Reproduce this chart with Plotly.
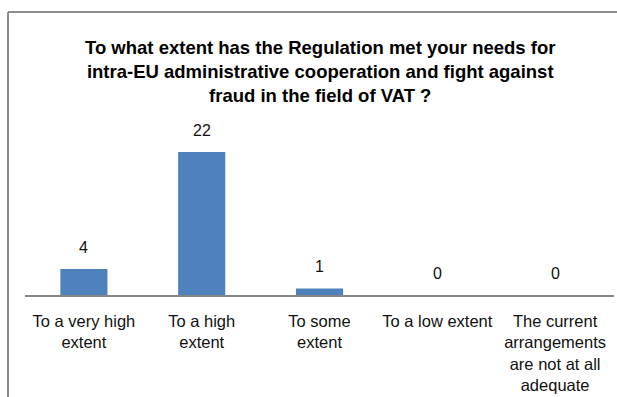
import plotly.graph_objects as go

categories = ["To a very high extent", "To a high extent", "To some extent",
              "To a low extent", "The current arrangements are not at all adequate"]
tick_labels = ["To a very high<br>extent", "To a high<br>extent", "To some<br>extent",
               "To a low extent", "The current<br>arrangements<br>are not at all<br>adequate"]
values = [4, 22, 1, 0, 0]
title_text = ("To what extent has the Regulation met your needs for<br>"
              "intra-EU administrative cooperation and fight against<br>"
              "fraud in the field of VAT ?")

W, H = 617, 397
L, R, T, B = 25, 3, 139, 102
plot_h = H - T - B
plot_w = W - L - R

fig = go.Figure()
fig.add_trace(go.Bar(
    x=categories, y=values,
    marker=dict(color="#4F81BD", line=dict(width=0)),
    width=0.4,
    hoverinfo="skip",
))

for c, v in zip(categories, values):
    fig.add_annotation(x=c, y=v, text=str(v), showarrow=False,
                       yanchor="middle", yshift=22,
                       font=dict(family="Liberation Sans", size=16, color="#111111"))

# title as centered multi-line annotation
fig.add_annotation(xref="paper", yref="paper",
                   x=(319.5 - L) / plot_w, y=(H - B - 35) / plot_h,
                   xanchor="center", yanchor="top", showarrow=False,
                   text="<b>" + title_text.replace("<br>", "</b><br><b>") + "</b>",
                   font=dict(family="Liberation Sans", size=18.5, color="#000000"))

# chart border (left and top edges visible)
bx0 = (8 - L) / plot_w
by1 = (H - B - 12) / plot_h
fig.add_shape(type="line", xref="paper", yref="paper", x0=bx0, x1=bx0, y0=by1, y1=-2,
              line=dict(color="#8c8c8c", width=2))
fig.add_shape(type="line", xref="paper", yref="paper", x0=bx0, x1=1.2, y0=by1, y1=by1,
              line=dict(color="#8c8c8c", width=2))

fig.update_layout(
    width=W, height=H,
    margin=dict(l=L, r=R, t=T, b=B),
    paper_bgcolor="white", plot_bgcolor="white",
    showlegend=False,
    xaxis=dict(type="category", tickmode="array", tickvals=categories, ticktext=tick_labels,
               showline=True, linecolor="#868686", linewidth=2, ticks="",
               showgrid=False, zeroline=False, ticklabelstandoff=10,
               tickfont=dict(family="Liberation Sans", size=16.5, color="#111111"),
               range=[-0.5, 4.5], fixedrange=True),
    yaxis=dict(range=[0, 24], visible=False, fixedrange=True),
)

fig.write_html("out.html", config={"displayModeBar": False},
               post_script="document.body.style.margin='0';document.body.style.overflow='hidden';")
